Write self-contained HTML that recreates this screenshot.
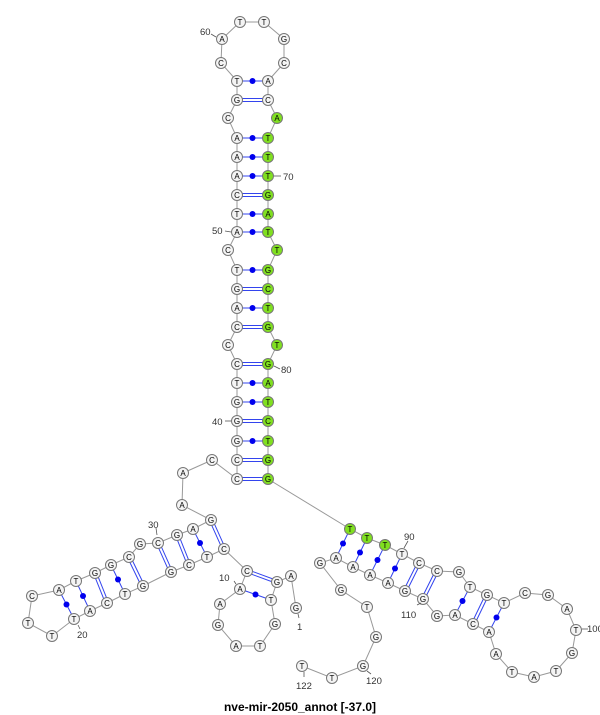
<!DOCTYPE html>
<html><head><meta charset="utf-8"><style>
html,body{margin:0;padding:0;background:#fff;width:600px;height:715px;overflow:hidden}
svg{display:block}
.n circle{fill:#f4f4f4;stroke:#777;stroke-width:1}
.n.g circle{fill:#80e020}
text{font-family:"Liberation Sans",sans-serif;font-size:8px;fill:#000}
.l{font-size:9.5px;fill:#333}
</style></head><body>
<svg width="600" height="715" viewBox="0 0 600 715" xmlns="http://www.w3.org/2000/svg">
<polyline fill="none" stroke="#999" stroke-width="1" points="296,608 291,576 277,582 271,600 275,624 260,646 236,646 218,625 220,604 240,589 247,571 224,549 207,557 189,565 171,572 143,586 125,594 107,603 90,611 74,619 52,636 28,623 32,596 59,590 76,581 95,573 111,565 129,557 140,544 158,543 177,535 193,529 211,520 182,505 183,473 212,460 237,479 237,460 237,441 237,421 237,402 237,383 237,364 228,345 237,327 237,308 237,289 237,270 228,250 237,232 237,214 237,195 237,176 237,157 237,138 228,118 237,100 237,81 221,63 222,39 240,22 264,22 284,39 284,63 268,81 268,100 277,118 268,138 268,157 268,176 268,195 268,214 268,232 277,250 268,270 268,289 268,308 268,327 277,345 268,364 268,383 268,402 268,421 268,441 268,460 268,479 350,529 367,538 385,545 402,554 419,563 437,571 459,572 470,587 487,595 504,603 525,593 548,595 567,609 576,630 572,653 556,671 534,677 512,672 496,654 489,632 473,624 455,615 437,616 423,599 405,591 388,583 370,575 353,567 336,558 320,563 341,590 367,607 376,637 363,666 332,678 302,666"/>
<g stroke="#3344ee" stroke-width="1">
<!-- double pairs -->
<line x1="237" y1="477.5" x2="268" y2="477.5"/><line x1="237" y1="480.5" x2="268" y2="480.5"/>
<line x1="237" y1="458.5" x2="268" y2="458.5"/><line x1="237" y1="461.5" x2="268" y2="461.5"/>
<line x1="237" y1="419.5" x2="268" y2="419.5"/><line x1="237" y1="422.5" x2="268" y2="422.5"/>
<line x1="237" y1="362.5" x2="268" y2="362.5"/><line x1="237" y1="365.5" x2="268" y2="365.5"/>
<line x1="237" y1="325.5" x2="268" y2="325.5"/><line x1="237" y1="328.5" x2="268" y2="328.5"/>
<line x1="237" y1="287.5" x2="268" y2="287.5"/><line x1="237" y1="290.5" x2="268" y2="290.5"/>
<line x1="237" y1="193.5" x2="268" y2="193.5"/><line x1="237" y1="196.5" x2="268" y2="196.5"/>
<line x1="237" y1="98.5" x2="268" y2="98.5"/><line x1="237" y1="101.5" x2="268" y2="101.5"/>
<line x1="276.5" y1="583.4" x2="246.5" y2="572.4"/><line x1="277.5" y1="580.6" x2="247.5" y2="569.6"/>
<line x1="222.6" y1="549.6" x2="209.6" y2="520.6"/><line x1="225.4" y1="548.4" x2="212.4" y2="519.4"/>
<line x1="187.6" y1="565.6" x2="175.6" y2="535.6"/><line x1="190.4" y1="564.4" x2="178.4" y2="534.4"/>
<line x1="169.6" y1="572.6" x2="156.6" y2="543.6"/><line x1="172.4" y1="571.4" x2="159.4" y2="542.4"/>
<line x1="141.6" y1="586.6" x2="127.6" y2="557.6"/><line x1="144.4" y1="585.4" x2="130.4" y2="556.4"/>
<line x1="105.6" y1="603.6" x2="93.6" y2="573.6"/><line x1="108.4" y1="602.4" x2="96.4" y2="572.4"/>
<line x1="420.4" y1="563.6" x2="406.4" y2="591.6"/><line x1="417.6" y1="562.4" x2="403.6" y2="590.4"/>
<line x1="438.4" y1="571.6" x2="424.4" y2="599.6"/><line x1="435.6" y1="570.4" x2="421.6" y2="598.4"/>
<line x1="488.4" y1="595.6" x2="474.4" y2="624.6"/><line x1="485.6" y1="594.4" x2="471.6" y2="623.4"/>
<!-- single pairs -->
<line x1="271" y1="600" x2="240" y2="589"/>
<line x1="207" y1="557" x2="193" y2="529"/>
<line x1="125" y1="594" x2="111" y2="565"/>
<line x1="90" y1="611" x2="76" y2="581"/>
<line x1="74" y1="619" x2="59" y2="590"/>
<line x1="237" y1="441" x2="268" y2="441"/>
<line x1="237" y1="402" x2="268" y2="402"/>
<line x1="237" y1="383" x2="268" y2="383"/>
<line x1="237" y1="308" x2="268" y2="308"/>
<line x1="237" y1="270" x2="268" y2="270"/>
<line x1="237" y1="232" x2="268" y2="232"/>
<line x1="237" y1="214" x2="268" y2="214"/>
<line x1="237" y1="176" x2="268" y2="176"/>
<line x1="237" y1="157" x2="268" y2="157"/>
<line x1="237" y1="138" x2="268" y2="138"/>
<line x1="237" y1="81" x2="268" y2="81"/>
<line x1="350" y1="529" x2="336" y2="558"/>
<line x1="367" y1="538" x2="353" y2="567"/>
<line x1="385" y1="545" x2="370" y2="575"/>
<line x1="402" y1="554" x2="388" y2="583"/>
<line x1="470" y1="587" x2="455" y2="615"/>
<line x1="504" y1="603" x2="489" y2="632"/>
</g>
<g fill="#0000ee">
<circle cx="255.5" cy="594.5" r="3"/><circle cx="200" cy="543" r="3"/><circle cx="118" cy="579.5" r="3"/>
<circle cx="83" cy="596" r="3"/><circle cx="66.5" cy="604.5" r="3"/>
<circle cx="252.5" cy="441" r="3"/><circle cx="252.5" cy="402" r="3"/><circle cx="252.5" cy="383" r="3"/>
<circle cx="252.5" cy="308" r="3"/><circle cx="252.5" cy="270" r="3"/><circle cx="252.5" cy="232" r="3"/>
<circle cx="252.5" cy="214" r="3"/><circle cx="252.5" cy="176" r="3"/><circle cx="252.5" cy="157" r="3"/>
<circle cx="252.5" cy="138" r="3"/><circle cx="252.5" cy="81" r="3"/>
<circle cx="343" cy="543.5" r="3"/><circle cx="360" cy="552.5" r="3"/><circle cx="377.5" cy="560" r="3"/>
<circle cx="395" cy="568.5" r="3"/><circle cx="462.5" cy="601" r="3"/><circle cx="496.5" cy="617.5" r="3"/>
</g>
<g text-anchor="middle">
<g class="n"><circle cx="296" cy="608" r="5.5"/><text x="296" y="611">G</text></g>
<g class="n"><circle cx="291" cy="576" r="5.5"/><text x="291" y="579">A</text></g>
<g class="n"><circle cx="277" cy="582" r="5.5"/><text x="277" y="585">G</text></g>
<g class="n"><circle cx="271" cy="600" r="5.5"/><text x="271" y="603">T</text></g>
<g class="n"><circle cx="275" cy="624" r="5.5"/><text x="275" y="627">G</text></g>
<g class="n"><circle cx="260" cy="646" r="5.5"/><text x="260" y="649">T</text></g>
<g class="n"><circle cx="236" cy="646" r="5.5"/><text x="236" y="649">A</text></g>
<g class="n"><circle cx="218" cy="625" r="5.5"/><text x="218" y="628">G</text></g>
<g class="n"><circle cx="220" cy="604" r="5.5"/><text x="220" y="607">A</text></g>
<g class="n"><circle cx="240" cy="589" r="5.5"/><text x="240" y="592">A</text></g>
<g class="n"><circle cx="247" cy="571" r="5.5"/><text x="247" y="574">C</text></g>
<g class="n"><circle cx="224" cy="549" r="5.5"/><text x="224" y="552">C</text></g>
<g class="n"><circle cx="207" cy="557" r="5.5"/><text x="207" y="560">T</text></g>
<g class="n"><circle cx="189" cy="565" r="5.5"/><text x="189" y="568">C</text></g>
<g class="n"><circle cx="171" cy="572" r="5.5"/><text x="171" y="575">G</text></g>
<g class="n"><circle cx="143" cy="586" r="5.5"/><text x="143" y="589">G</text></g>
<g class="n"><circle cx="125" cy="594" r="5.5"/><text x="125" y="597">T</text></g>
<g class="n"><circle cx="107" cy="603" r="5.5"/><text x="107" y="606">C</text></g>
<g class="n"><circle cx="90" cy="611" r="5.5"/><text x="90" y="614">A</text></g>
<g class="n"><circle cx="74" cy="619" r="5.5"/><text x="74" y="622">T</text></g>
<g class="n"><circle cx="52" cy="636" r="5.5"/><text x="52" y="639">T</text></g>
<g class="n"><circle cx="28" cy="623" r="5.5"/><text x="28" y="626">T</text></g>
<g class="n"><circle cx="32" cy="596" r="5.5"/><text x="32" y="599">C</text></g>
<g class="n"><circle cx="59" cy="590" r="5.5"/><text x="59" y="593">A</text></g>
<g class="n"><circle cx="76" cy="581" r="5.5"/><text x="76" y="584">T</text></g>
<g class="n"><circle cx="95" cy="573" r="5.5"/><text x="95" y="576">G</text></g>
<g class="n"><circle cx="111" cy="565" r="5.5"/><text x="111" y="568">G</text></g>
<g class="n"><circle cx="129" cy="557" r="5.5"/><text x="129" y="560">C</text></g>
<g class="n"><circle cx="140" cy="544" r="5.5"/><text x="140" y="547">G</text></g>
<g class="n"><circle cx="158" cy="543" r="5.5"/><text x="158" y="546">C</text></g>
<g class="n"><circle cx="177" cy="535" r="5.5"/><text x="177" y="538">G</text></g>
<g class="n"><circle cx="193" cy="529" r="5.5"/><text x="193" y="532">A</text></g>
<g class="n"><circle cx="211" cy="520" r="5.5"/><text x="211" y="523">G</text></g>
<g class="n"><circle cx="182" cy="505" r="5.5"/><text x="182" y="508">A</text></g>
<g class="n"><circle cx="183" cy="473" r="5.5"/><text x="183" y="476">A</text></g>
<g class="n"><circle cx="212" cy="460" r="5.5"/><text x="212" y="463">C</text></g>
<g class="n"><circle cx="237" cy="479" r="5.5"/><text x="237" y="482">C</text></g>
<g class="n"><circle cx="237" cy="460" r="5.5"/><text x="237" y="463">C</text></g>
<g class="n"><circle cx="237" cy="441" r="5.5"/><text x="237" y="444">G</text></g>
<g class="n"><circle cx="237" cy="421" r="5.5"/><text x="237" y="424">G</text></g>
<g class="n"><circle cx="237" cy="402" r="5.5"/><text x="237" y="405">G</text></g>
<g class="n"><circle cx="237" cy="383" r="5.5"/><text x="237" y="386">T</text></g>
<g class="n"><circle cx="237" cy="364" r="5.5"/><text x="237" y="367">C</text></g>
<g class="n"><circle cx="228" cy="345" r="5.5"/><text x="228" y="348">C</text></g>
<g class="n"><circle cx="237" cy="327" r="5.5"/><text x="237" y="330">C</text></g>
<g class="n"><circle cx="237" cy="308" r="5.5"/><text x="237" y="311">A</text></g>
<g class="n"><circle cx="237" cy="289" r="5.5"/><text x="237" y="292">G</text></g>
<g class="n"><circle cx="237" cy="270" r="5.5"/><text x="237" y="273">T</text></g>
<g class="n"><circle cx="228" cy="250" r="5.5"/><text x="228" y="253">C</text></g>
<g class="n"><circle cx="237" cy="232" r="5.5"/><text x="237" y="235">A</text></g>
<g class="n"><circle cx="237" cy="214" r="5.5"/><text x="237" y="217">T</text></g>
<g class="n"><circle cx="237" cy="195" r="5.5"/><text x="237" y="198">C</text></g>
<g class="n"><circle cx="237" cy="176" r="5.5"/><text x="237" y="179">A</text></g>
<g class="n"><circle cx="237" cy="157" r="5.5"/><text x="237" y="160">A</text></g>
<g class="n"><circle cx="237" cy="138" r="5.5"/><text x="237" y="141">A</text></g>
<g class="n"><circle cx="228" cy="118" r="5.5"/><text x="228" y="121">C</text></g>
<g class="n"><circle cx="237" cy="100" r="5.5"/><text x="237" y="103">G</text></g>
<g class="n"><circle cx="237" cy="81" r="5.5"/><text x="237" y="84">T</text></g>
<g class="n"><circle cx="221" cy="63" r="5.5"/><text x="221" y="66">C</text></g>
<g class="n"><circle cx="222" cy="39" r="5.5"/><text x="222" y="42">A</text></g>
<g class="n"><circle cx="240" cy="22" r="5.5"/><text x="240" y="25">T</text></g>
<g class="n"><circle cx="264" cy="22" r="5.5"/><text x="264" y="25">T</text></g>
<g class="n"><circle cx="284" cy="39" r="5.5"/><text x="284" y="42">G</text></g>
<g class="n"><circle cx="284" cy="63" r="5.5"/><text x="284" y="66">C</text></g>
<g class="n"><circle cx="268" cy="81" r="5.5"/><text x="268" y="84">A</text></g>
<g class="n"><circle cx="268" cy="100" r="5.5"/><text x="268" y="103">C</text></g>
<g class="n g"><circle cx="277" cy="118" r="5.5"/><text x="277" y="121">A</text></g>
<g class="n g"><circle cx="268" cy="138" r="5.5"/><text x="268" y="141">T</text></g>
<g class="n g"><circle cx="268" cy="157" r="5.5"/><text x="268" y="160">T</text></g>
<g class="n g"><circle cx="268" cy="176" r="5.5"/><text x="268" y="179">T</text></g>
<g class="n g"><circle cx="268" cy="195" r="5.5"/><text x="268" y="198">G</text></g>
<g class="n g"><circle cx="268" cy="214" r="5.5"/><text x="268" y="217">A</text></g>
<g class="n g"><circle cx="268" cy="232" r="5.5"/><text x="268" y="235">T</text></g>
<g class="n g"><circle cx="277" cy="250" r="5.5"/><text x="277" y="253">T</text></g>
<g class="n g"><circle cx="268" cy="270" r="5.5"/><text x="268" y="273">G</text></g>
<g class="n g"><circle cx="268" cy="289" r="5.5"/><text x="268" y="292">C</text></g>
<g class="n g"><circle cx="268" cy="308" r="5.5"/><text x="268" y="311">T</text></g>
<g class="n g"><circle cx="268" cy="327" r="5.5"/><text x="268" y="330">G</text></g>
<g class="n g"><circle cx="277" cy="345" r="5.5"/><text x="277" y="348">T</text></g>
<g class="n g"><circle cx="268" cy="364" r="5.5"/><text x="268" y="367">G</text></g>
<g class="n g"><circle cx="268" cy="383" r="5.5"/><text x="268" y="386">A</text></g>
<g class="n g"><circle cx="268" cy="402" r="5.5"/><text x="268" y="405">T</text></g>
<g class="n g"><circle cx="268" cy="421" r="5.5"/><text x="268" y="424">C</text></g>
<g class="n g"><circle cx="268" cy="441" r="5.5"/><text x="268" y="444">T</text></g>
<g class="n g"><circle cx="268" cy="460" r="5.5"/><text x="268" y="463">G</text></g>
<g class="n g"><circle cx="268" cy="479" r="5.5"/><text x="268" y="482">G</text></g>
<g class="n g"><circle cx="350" cy="529" r="5.5"/><text x="350" y="532">T</text></g>
<g class="n g"><circle cx="367" cy="538" r="5.5"/><text x="367" y="541">T</text></g>
<g class="n g"><circle cx="385" cy="545" r="5.5"/><text x="385" y="548">T</text></g>
<g class="n"><circle cx="402" cy="554" r="5.5"/><text x="402" y="557">T</text></g>
<g class="n"><circle cx="419" cy="563" r="5.5"/><text x="419" y="566">C</text></g>
<g class="n"><circle cx="437" cy="571" r="5.5"/><text x="437" y="574">C</text></g>
<g class="n"><circle cx="459" cy="572" r="5.5"/><text x="459" y="575">G</text></g>
<g class="n"><circle cx="470" cy="587" r="5.5"/><text x="470" y="590">T</text></g>
<g class="n"><circle cx="487" cy="595" r="5.5"/><text x="487" y="598">G</text></g>
<g class="n"><circle cx="504" cy="603" r="5.5"/><text x="504" y="606">T</text></g>
<g class="n"><circle cx="525" cy="593" r="5.5"/><text x="525" y="596">C</text></g>
<g class="n"><circle cx="548" cy="595" r="5.5"/><text x="548" y="598">G</text></g>
<g class="n"><circle cx="567" cy="609" r="5.5"/><text x="567" y="612">A</text></g>
<g class="n"><circle cx="576" cy="630" r="5.5"/><text x="576" y="633">T</text></g>
<g class="n"><circle cx="572" cy="653" r="5.5"/><text x="572" y="656">G</text></g>
<g class="n"><circle cx="556" cy="671" r="5.5"/><text x="556" y="674">T</text></g>
<g class="n"><circle cx="534" cy="677" r="5.5"/><text x="534" y="680">A</text></g>
<g class="n"><circle cx="512" cy="672" r="5.5"/><text x="512" y="675">T</text></g>
<g class="n"><circle cx="496" cy="654" r="5.5"/><text x="496" y="657">A</text></g>
<g class="n"><circle cx="489" cy="632" r="5.5"/><text x="489" y="635">A</text></g>
<g class="n"><circle cx="473" cy="624" r="5.5"/><text x="473" y="627">C</text></g>
<g class="n"><circle cx="455" cy="615" r="5.5"/><text x="455" y="618">A</text></g>
<g class="n"><circle cx="437" cy="616" r="5.5"/><text x="437" y="619">G</text></g>
<g class="n"><circle cx="423" cy="599" r="5.5"/><text x="423" y="602">G</text></g>
<g class="n"><circle cx="405" cy="591" r="5.5"/><text x="405" y="594">G</text></g>
<g class="n"><circle cx="388" cy="583" r="5.5"/><text x="388" y="586">A</text></g>
<g class="n"><circle cx="370" cy="575" r="5.5"/><text x="370" y="578">A</text></g>
<g class="n"><circle cx="353" cy="567" r="5.5"/><text x="353" y="570">A</text></g>
<g class="n"><circle cx="336" cy="558" r="5.5"/><text x="336" y="561">A</text></g>
<g class="n"><circle cx="320" cy="563" r="5.5"/><text x="320" y="566">G</text></g>
<g class="n"><circle cx="341" cy="590" r="5.5"/><text x="341" y="593">G</text></g>
<g class="n"><circle cx="367" cy="607" r="5.5"/><text x="367" y="610">T</text></g>
<g class="n"><circle cx="376" cy="637" r="5.5"/><text x="376" y="640">G</text></g>
<g class="n"><circle cx="363" cy="666" r="5.5"/><text x="363" y="669">G</text></g>
<g class="n"><circle cx="332" cy="678" r="5.5"/><text x="332" y="681">T</text></g>
<g class="n"><circle cx="302" cy="666" r="5.5"/><text x="302" y="669">T</text></g>
</g>
<g stroke="#555" stroke-width="0.8">
<line x1="211" y1="34" x2="216" y2="37"/><line x1="274" y1="176" x2="281" y2="176"/>
<line x1="225" y1="231" x2="231" y2="232"/><line x1="274" y1="366" x2="280" y2="369"/>
<line x1="225" y1="421" x2="231" y2="421"/><line x1="156" y1="528" x2="157" y2="535"/>
<line x1="78" y1="625" x2="80" y2="629"/><line x1="234" y1="581" x2="236" y2="584"/>
<line x1="298" y1="614" x2="299" y2="618"/><line x1="408" y1="541" x2="404" y2="548"/>
<line x1="417" y1="605" x2="421" y2="603"/><line x1="367" y1="671" x2="371" y2="674"/>
<line x1="304" y1="672" x2="304" y2="677"/><line x1="582" y1="629" x2="588" y2="629"/>
</g>
<text class="l" x="200" y="35">60</text>
<text class="l" x="283" y="180">70</text>
<text class="l" x="212" y="234">50</text>
<text class="l" x="281" y="373">80</text>
<text class="l" x="212" y="425">40</text>
<text class="l" x="148" y="528">30</text>
<text class="l" x="77" y="638">20</text>
<text class="l" x="219" y="581">10</text>
<text class="l" x="297" y="630">1</text>
<text class="l" x="404" y="540">90</text>
<text class="l" x="587" y="632">100</text>
<text class="l" x="401" y="618">110</text>
<text class="l" x="366" y="684">120</text>
<text class="l" x="296" y="689">122</text>
<text x="300" y="711" text-anchor="middle" style="font-size:12px;font-weight:bold">nve-mir-2050_annot [-37.0]</text>
</svg>
</body></html>
